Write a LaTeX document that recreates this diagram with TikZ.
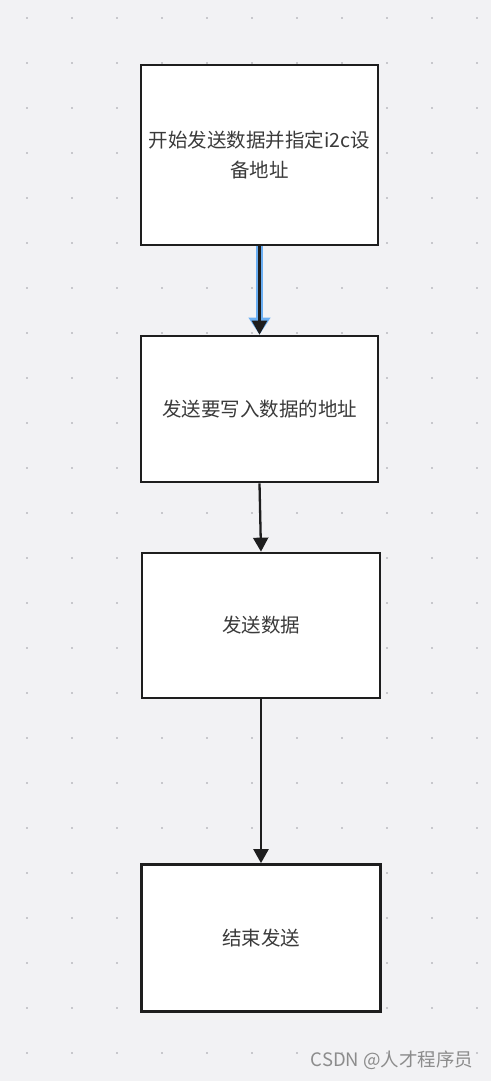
\documentclass[tikz,border=0pt]{standalone}
\usepackage{fontspec}
\newfontfamily\cjk{Noto Sans CJK SC}
\usetikzlibrary{arrows.meta}
\definecolor{bgcol}{HTML}{F2F2F4}
\definecolor{dotcol}{HTML}{C8C8CC}
\definecolor{linecol}{HTML}{1E1E1E}
\definecolor{textcol}{HTML}{3A3A3A}
\definecolor{selcol}{HTML}{6AAEF2}
\tikzset{
  stepbox/.style={draw=linecol, line width=2.7pt, fill=white, inner sep=0pt,
    text=textcol, align=center, font=\cjk\fontsize{19.5}{30}\selectfont},
  flow/.style={draw=linecol, line width=2.3pt, -{Triangle[length=14pt,width=15pt]}},
  flowsel/.style={draw=selcol, line width=6.5pt, -{Triangle[length=17pt,width=21pt]}}
}
\begin{document}
\begin{tikzpicture}[x=1pt, y=-1pt]
      % Fondo
      \fill[bgcol] (0,0) rectangle (491,1081);
      \useasboundingbox (0,0) rectangle (491,1081);

      % Puntos de la rejilla
      \foreach \x in {27,72,...,477} {
          \foreach \y in {18,63,...,1053} {
              \fill[dotcol] (\x-1,\y-1) rectangle (\x+1,\y+1);
          }
      }

      % Cajas
      \node[stepbox, minimum width=237pt, minimum height=180pt] (start) at (259.5,155)
          {开始发送数据并指定i2c设\\备地址};
      \node[stepbox, minimum width=237pt, minimum height=146pt] (addr) at (259.5,409)
          {发送要写入数据的地址};
      \node[stepbox, minimum width=238pt, minimum height=145pt] (data) at (261,625.5)
          {发送数据};
      \node[stepbox, minimum width=239pt, minimum height=147pt] (finish) at (261,938)
          {结束发送};

      % Flechas
      \draw[flowsel] (start.south) -- (addr.north);
      \draw[flow] (start.south) -- (addr.north);
      \draw[flow] (addr.south) -- (data.north);
      \draw[flow] (data.south) -- (finish.north);

      % Marca de agua
      \node[text=black!45, font=\cjk\fontsize{18.5}{22}\selectfont, anchor=east] (mark) at (477,1060)
          {CSDN @人才程序员};
    \end{tikzpicture}
\end{document}
